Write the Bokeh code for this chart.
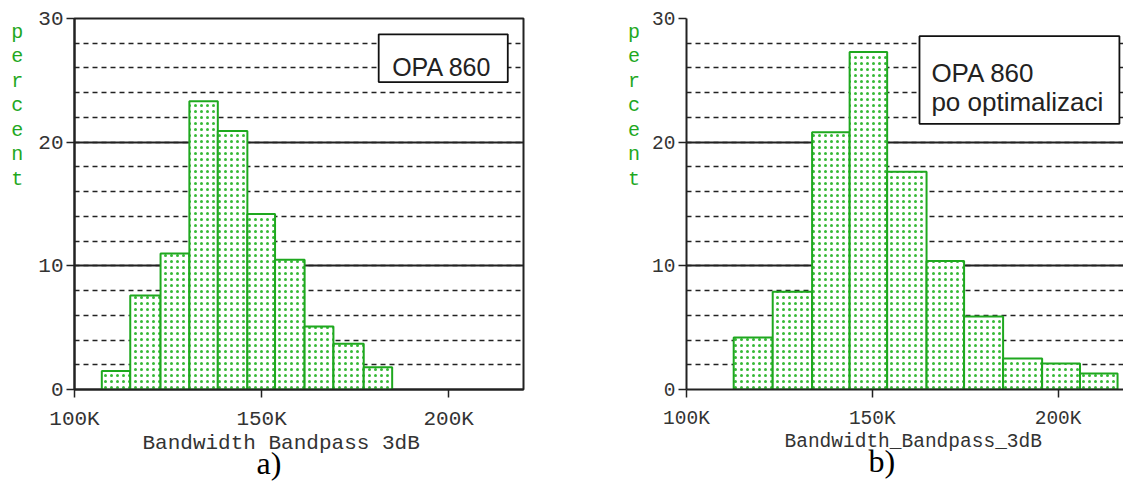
from bokeh.plotting import figure
from bokeh.models import (Label, BoxAnnotation, SingleIntervalTicker, FixedTicker,
                          PrintfTickFormatter, Range1d, Title)
from bokeh.layouts import row
from bokeh.embed import file_html
from bokeh.resources import INLINE

# ---- data (bandwidth in kHz, share in percent) ----
a_edges = [107.3, 114.9, 123.0, 130.7, 138.3, 146.2, 153.6, 161.5, 169.2, 177.3, 184.9]
a_percent = [1.5, 7.6, 11.0, 23.3, 20.9, 14.2, 10.5, 5.1, 3.7, 1.8]
b_edges = [112.7, 123.2, 133.8, 143.9, 154.0, 164.6, 174.7, 185.2, 195.7, 205.9, 216.0]
b_percent = [4.2, 7.9, 20.8, 27.3, 17.6, 10.4, 5.9, 2.5, 2.1, 1.3]
x_ticks = [100, 150, 200]
y_label = "percent"
x_title_a = "Bandwidth Bandpass 3dB"
x_title_b = "Bandwidth_Bandpass_3dB"
legend_a = ["OPA 860"]
legend_b = ["OPA 860", "po optimalizaci"]
caption_a = "a)"
caption_b = "b)"

MONO = "Liberation Mono"
SANS = "Liberation Sans"
SERIF = "Liberation Serif"
GREEN = "#1fa81f"
DOT = "#36b936"
INK = "#222222"
PAD_LINES = 8  # blank lines that lift the stacked y title towards the top


def panel(edges, percent, width, mbl, mbr, mbt, mbb, x_end, outline,
          ylab_standoff, tick_size, x_title, title_size, title_offset,
          caption, caption_offset):
    p = figure(width=width, height=486, output_backend="svg", toolbar_location=None,
               x_range=Range1d(100, x_end), y_range=Range1d(0, 30),
               min_border_left=mbl, min_border_right=mbr,
               min_border_top=mbt, min_border_bottom=mbb)
    p.outline_line_color = INK if outline else None
    p.outline_line_width = 2
    p.background_fill_color = "white"
    p.border_fill_color = "white"

    p.yaxis.ticker = SingleIntervalTicker(interval=10, num_minor_ticks=5)
    p.xaxis.ticker = FixedTicker(ticks=x_ticks, minor_ticks=[])
    p.xaxis.formatter = PrintfTickFormatter(format="%dK")
    for ax in (p.xaxis, p.yaxis):
        ax.axis_line_color = INK
        ax.axis_line_width = 2
        ax.major_tick_line_color = INK
        ax.major_tick_line_width = 1.5
        ax.major_tick_out = 8
        ax.major_tick_in = 0
        ax.minor_tick_line_color = None
        ax.major_label_text_font = MONO
        ax.major_label_text_font_size = tick_size
        ax.major_label_text_color = "#333333"
    p.yaxis.major_label_standoff = 3
    p.xaxis.major_label_standoff = 10

    # stacked green "percent" title
    yax = p.yaxis[0]
    yax.axis_label = "\n".join(list(y_label) + ["\u00a0"] * PAD_LINES)
    yax.axis_label_orientation = "horizontal"
    yax.axis_label_text_font = MONO
    yax.axis_label_text_font_size = "20px"
    yax.axis_label_text_font_style = "normal"
    yax.axis_label_text_color = GREEN
    yax.axis_label_text_line_height = 1.067
    yax.axis_label_standoff = ylab_standoff

    p.xgrid.visible = False
    p.ygrid.grid_line_color = INK
    p.ygrid.grid_line_width = 1.8
    p.ygrid.minor_grid_line_color = INK
    p.ygrid.minor_grid_line_width = 1.6
    p.ygrid.minor_grid_line_dash = "5 4"

    p.quad(left=edges[:-1], right=edges[1:], bottom=0, top=percent,
           fill_color="white", line_color=GREEN, line_width=2,
           hatch_pattern="dot", hatch_color=DOT, hatch_scale=6, hatch_weight=1.5)

    p.add_layout(Title(text=x_title, align="left", offset=title_offset, standoff=-7,
                       text_font=MONO, text_font_size=title_size, text_font_style="normal",
                       text_color="#333333"), "below")
    p.add_layout(Title(text=caption, align="left", offset=caption_offset, standoff=-17,
                       text_font=SERIF, text_font_size="32px", text_font_style="normal",
                       text_color="black"), "below")
    return p


pa = panel(a_edges, a_percent, 600, 74, 77, 16, 97, 220, True, 12, "21px",
           x_title_a, "21px", 68, caption_a, 182)
pb = panel(b_edges, b_percent, 523, 86, 0, 18, 96, 217.6, False, 9, "19.5px",
           x_title_b, "19.5px", 98, caption_b, 182)

# legend boxes
pa.add_layout(BoxAnnotation(left=181.3, right=215.8, bottom=24.86, top=28.72,
                            fill_color="white", fill_alpha=1, line_color="#111111",
                            line_width=1.8, line_alpha=1))
pa.add_layout(Label(x=184.9, y=26.07, text=legend_a[0], text_font=SANS,
                    text_font_size="25px", text_color=INK, text_baseline="alphabetic"))
pb.add_layout(BoxAnnotation(left=162.7, right=216.5, bottom=21.48, top=28.57,
                            fill_color="white", fill_alpha=1, line_color="#111111",
                            line_width=1.8, line_alpha=1))
for i, line in enumerate(legend_b):
    pb.add_layout(Label(x=165.9, y=25.61 - i * 2.33, text=line, text_font=SANS,
                        text_font_size="26px", text_color=INK, text_baseline="alphabetic"))

layout = row(pa, pb)
open("out.html", "w").write(file_html(layout, INLINE))
